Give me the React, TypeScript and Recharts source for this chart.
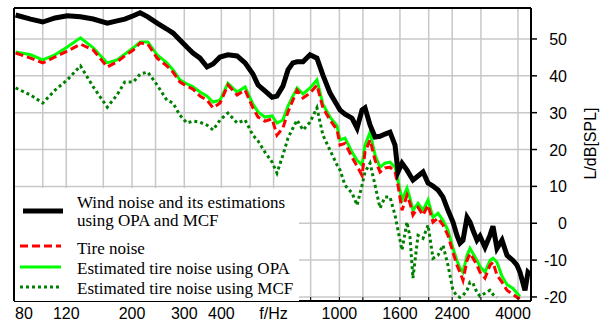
import React from 'react';
import { LineChart, Line, XAxis, YAxis, CartesianGrid, ReferenceLine, Legend } from 'recharts';

// frequency grid (Hz) shared by all series
const freqs = [
  81, 91, 100, 110, 121, 134, 148, 165, 178, 189, 202, 213, 226, 243, 262, 275, 290, 306, 321, 339,
  358, 375, 396, 421, 452, 481, 511, 532, 561, 593, 616, 645, 671, 697, 720, 754, 796, 840, 880, 930,
  982, 1005, 1045, 1103, 1147, 1192, 1220, 1269, 1319, 1371, 1425, 1481, 1540, 1576, 1626, 1690, 1730, 1770, 1841, 1914,
  1990, 2068, 2150, 2235, 2323, 2415, 2491, 2550, 2610, 2693, 2756, 2821, 2910, 2978, 3096, 3218, 3294, 3398, 3533, 3673,
  3848, 3970, 4063, 4223, 4322, 4425,
];

const windNoise = [
  56.5, 55.4, 54.6, 55.7, 56.3, 56.0, 55.4, 54.3, 54.9, 55.4, 56.3, 57.1, 56.0, 54.3, 52.7, 51.6, 49.7, 47.8, 46.2, 44.8,
  42.4, 43.2, 45.1, 45.7, 45.4, 43.5, 40.5, 37.5, 35.9, 34.2, 34.5, 37.2, 41.6, 43.5, 43.8, 43.8, 45.7, 44.8, 40.2, 35.3,
  32.1, 30.7, 29.6, 28.5, 25.8, 30.7, 31.3, 26.6, 23.4, 23.6, 24.2, 24.7, 21.2, 13.9, 16.3, 14.4, 13.0, 11.7, 12.8, 13.9,
  10.9, 10.1, 9.0, 7.1, 3.5, 0.3, -3.3, -5.4, -4.6, 1.6, 0.3, -1.9, -4.6, -3.5, -6.5, -3.3, -0.8, -6.8, -4.6, -8.7,
  -10.1, -11.4, -13.3, -18.2, -13.3, -14.1,
];

const tireNoise = [
  46.2, 44.8, 43.5, 45.1, 46.7, 48.6, 47.0, 42.4, 43.8, 45.4, 47.0, 48.9, 48.6, 44.8, 42.7, 41.0, 38.3, 37.2, 36.4, 34.5,
  33.4, 31.3, 32.6, 37.5, 34.8, 36.1, 31.3, 28.8, 27.7, 28.3, 23.9, 25.8, 30.2, 33.4, 36.1, 34.0, 35.3, 37.5, 31.3, 28.0,
  25.3, 21.2, 21.7, 17.9, 15.5, 13.0, 19.3, 22.6, 17.1, 13.9, 15.0, 15.2, 13.9, 10.3, 3.5, 7.6, 5.4, 2.2, 4.3, 2.2,
  4.9, 0.3, 1.4, -0.5, -3.3, -7.9, -11.4, -13.3, -15.5, -10.1, -8.2, -9.5, -11.4, -13.3, -14.9, -11.4, -10.6, -14.1, -16.0, -18.2,
  -19.3, -20.1, -20.4, null, null, null,
];

const opaEstimate = [
  46.5, 45.7, 44.3, 45.7, 47.8, 50.3, 47.6, 43.5, 44.3, 45.9, 47.6, 49.2, 49.2, 45.7, 43.5, 41.6, 38.9, 37.8, 37.0, 35.6,
  34.5, 32.9, 33.4, 38.0, 35.6, 37.0, 32.3, 30.2, 28.8, 29.1, 27.2, 28.0, 31.8, 34.5, 36.7, 35.1, 36.7, 38.9, 32.3, 28.8,
  26.4, 22.6, 23.1, 19.3, 17.1, 15.8, 21.2, 24.7, 18.5, 15.2, 16.3, 16.6, 15.2, 11.7, 6.3, 9.5, 6.8, 3.5, 5.4, 3.5,
  6.3, 1.6, 2.7, 0.8, -1.9, -6.8, -10.1, -12.2, -13.3, -8.7, -6.8, -8.2, -10.1, -11.7, -13.3, -10.1, -9.5, -10.6, -14.4, -16.6,
  -17.7, -19.0, -19.8, null, null, null,
];

const mcfEstimate = [
  36.7, 34.8, 32.6, 36.1, 38.9, 42.7, 37.0, 31.5, 34.8, 38.3, 38.3, 40.5, 41.0, 37.5, 33.4, 32.6, 29.3, 27.2, 27.7, 27.4,
  26.6, 25.3, 28.0, 29.9, 27.2, 28.0, 23.9, 22.3, 19.3, 16.6, 13.6, 18.5, 23.1, 25.8, 28.0, 25.3, 27.4, 31.3, 23.9, 19.8,
  15.8, 14.4, 10.3, 8.2, 4.9, 10.3, 13.9, 16.3, 10.3, 4.1, 7.1, 7.1, 2.2, -1.9, -7.3, 0.3, -3.8, -14.9, -3.3, -4.1,
  -0.5, -9.5, -8.7, -6.0, -11.4, -18.2, -19.8, -20.1, -19.6, -18.2, -16.0, -16.3, -18.8, -19.8, -19.0, -18.2, -19.3, -20.1, null, null,
  null, null, null, null, null, null,
];

const xTicks = [80, 100, 120, 160, 200, 240, 300, 400, 500, 600, 800, 1000, 1200, 1600, 2000, 2400, 3000, 4000];
const xTickLabels = ['80', '', '120', '', '200', '', '300', '400', '', 'f/Hz', '', '1000', '', '1600', '', '2400', '', '4000'];
const yTicks = [-20, -10, 0, 10, 20, 30, 40, 50];

const legendLabels = [
  ['Wind noise and its estimations', 'using OPA and MCF'],
  ['Tire noise'],
  ['Estimated tire noise using OPA'],
  ['Estimated tire noise using MCF'],
];

const chartData = freqs.map((f, i) => ({
  f,
  wind: windNoise[i],
  tire: tireNoise[i],
  opa: opaEstimate[i],
  mcf: mcfEstimate[i],
}));

const sans = 'Liberation Sans, Arial, sans-serif';
const serif = 'Liberation Serif, Times New Roman, serif';

const XTick = (props: any) => {
  const { x, y, payload } = props;
  const i = xTicks.indexOf(payload.value);
  const label = xTickLabels[i] || '';
  let dx = 0;
  if (i === 0) dx = 10;
  if (i === xTicks.length - 1) dx = -5;
  return (
    <g>
      <line x1={x} x2={x} y1={y} y2={y - 4} stroke="#000" strokeWidth={1} />
      {label && (
        <text x={x + dx} y={y + 18} textAnchor="middle" fontFamily={sans} fontSize={16} fill="#000">
          {label}
        </text>
      )}
    </g>
  );
};

const YTick = (props: any) => {
  const { x, y, payload } = props;
  return (
    <text x={x + 30} y={y} dy={6} textAnchor="end" fontFamily={sans} fontSize={16} fill="#000">
      {payload.value}
    </text>
  );
};

const YTitle = (props: any) => {
  const vb = props.viewBox || { x: 531, y: 8, width: 76, height: 293 };
  const cx = vb.x + 59;
  const cy = vb.y + vb.height / 2 - 11;
  return (
    <text x={cx} y={cy} transform={`rotate(-90 ${cx} ${cy})`} textAnchor="middle" dy={6} fontFamily={sans} fontSize={16} fill="#000">
      L/dB[SPL]
    </text>
  );
};

const LegendBox = () => (
  <svg width={284} height={113} style={{ display: 'block' }}>
    <rect x={0} y={0} width={284} height={113} fill="#fff" />
    <line x1={8} x2={48} y1={23} y2={23} stroke="#000" strokeWidth={5} />
    <line x1={5} x2={46} y1={58} y2={58} stroke="#ff0000" strokeWidth={3} strokeDasharray="8 4" />
    <line x1={5} x2={46} y1={79} y2={79} stroke="#00ff00" strokeWidth={3} />
    <line x1={5} x2={46} y1={99} y2={99} stroke="#008000" strokeWidth={3} strokeDasharray="3 3" />
    <g fontFamily={serif} fontSize={17} fill="#000">
      <text x={62} y={20}>{legendLabels[0][0]}</text>
      <text x={62} y={38}>{legendLabels[0][1]}</text>
      <text x={62} y={66}>{legendLabels[1][0]}</text>
      <text x={62} y={86}>{legendLabels[2][0]}</text>
      <text x={62} y={106}>{legendLabels[3][0]}</text>
    </g>
  </svg>
);

export default function App() {
  return (
    <div style={{ position: 'absolute', left: 0, top: 0, width: 607, height: 322, background: '#fff' }}>
      <LineChart width={607} height={322} data={chartData} margin={{ top: 8, right: 0, bottom: 0, left: 14 }}>
        <CartesianGrid stroke="#c8c8c8" strokeWidth={1.5} />
        <XAxis
          dataKey="f"
          type="number"
          scale="log"
          domain={[80, 4425]}
          allowDataOverflow
          ticks={xTicks}
          interval={0}
          height={21}
          tickSize={0}
          tickMargin={0}
          tickLine={false}
          tick={<XTick />}
          axisLine={{ stroke: '#000', strokeWidth: 2 }}
        />
        <YAxis
          orientation="right"
          type="number"
          domain={[-21.1, 58.4]}
          allowDataOverflow
          ticks={yTicks}
          interval={0}
          width={76}
          tickSize={6}
          tickMargin={0}
          tickLine={{ stroke: '#000', strokeWidth: 1.5 }}
          tick={<YTick />}
          axisLine={{ stroke: '#000', strokeWidth: 2 }}
          label={<YTitle />}
        />
        <ReferenceLine y={58.4} stroke="#000" strokeWidth={2} />
        <ReferenceLine x={80} stroke="#000" strokeWidth={2} />
        <Line type="linear" dataKey="opa" stroke="#00ff00" strokeWidth={3} dot={false} activeDot={false} isAnimationActive={false} />
        <Line type="linear" dataKey="tire" stroke="#ff0000" strokeWidth={3} strokeDasharray="8 4" dot={false} activeDot={false} isAnimationActive={false} />
        <Line type="linear" dataKey="mcf" stroke="#008000" strokeWidth={3} strokeDasharray="3 3" dot={false} activeDot={false} isAnimationActive={false} />
        <Line type="linear" dataKey="wind" stroke="#000" strokeWidth={5} dot={false} activeDot={false} isAnimationActive={false} />
        <Legend
          layout="vertical"
          align="center"
          verticalAlign="middle"
          content={<LegendBox />}
          wrapperStyle={{ left: 15, top: 188, width: 284, height: 113, background: '#fff' }}
        />
      </LineChart>
    </div>
  );
}
